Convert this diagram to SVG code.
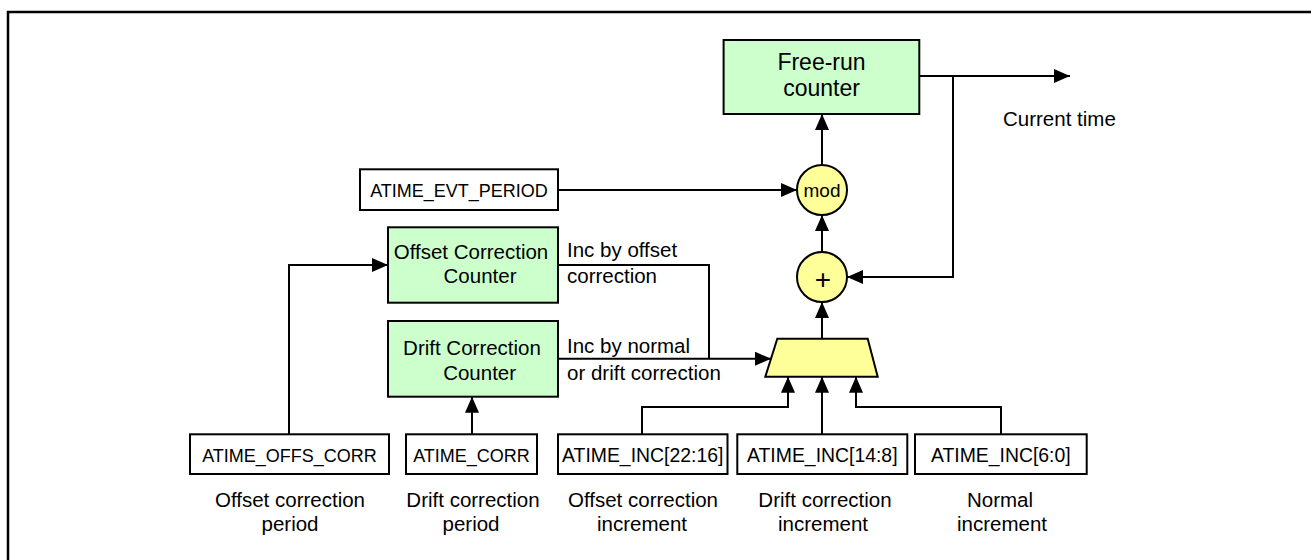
<svg xmlns="http://www.w3.org/2000/svg" width="1311" height="560" viewBox="0 0 1311 560">
<style>
  .frame{fill:none;stroke:#000;stroke-width:2.5}
  .box{fill:#fff;stroke:#000;stroke-width:2}
  .cnt{fill:#ccffcc;stroke:#000;stroke-width:2}
  .op{fill:#ffff99;stroke:#000;stroke-width:2}
  .ln{fill:none;stroke:#000;stroke-width:2}
  .arr{marker-end:url(#ah)}
  text{font-family:"Liberation Sans",Arial,sans-serif;fill:#000}
  .lbl{font-size:20.5px}
  .reg{font-size:18px;text-anchor:middle}
  .regn{font-size:19.4px;text-anchor:middle}
  .c{text-anchor:middle}
  .big{font-size:23px;text-anchor:middle}
</style>
<defs>
  <marker id="ah" markerUnits="userSpaceOnUse" markerWidth="16" markerHeight="14" refX="16" refY="7" orient="auto">
    <path d="M0,0 L16,7 L0,14 z" fill="#000"/>
  </marker>
</defs>
<rect width="1311" height="560" fill="#fff"/>
<polyline class="frame" points="8,562 8,12 1313,12"/>

<g id="connectors">
  <polyline class="ln arr" points="919,76 1070,76"/>
  <polyline class="ln arr" points="953,76 953,277 847,277"/>
  <polyline class="ln arr" points="822,165 822,114"/>
  <polyline class="ln arr" points="558,190 797,190"/>
  <polyline class="ln arr" points="822,252 822,215"/>
  <polyline class="ln arr" points="822,339 822,302"/>
  <polyline class="ln arr" points="558,358.7 771,358.7"/>
  <polyline class="ln" points="558,265 709,265 709,358.7"/>
  <polyline class="ln arr" points="289,434.3 289,265 388,265"/>
  <polyline class="ln arr" points="472,434.3 472,396.7"/>
  <polyline class="ln arr" points="642,434.3 642,407 788,407 788,376.7"/>
  <polyline class="ln arr" points="822,434.3 822,376.7"/>
  <polyline class="ln arr" points="1001,434.3 1001,407 856,407 856,376.7"/>
</g>

<g id="free-run-counter">
  <rect class="cnt" x="723.6" y="40" width="195.7" height="74"/>
  <text class="big" x="821.5" y="70">Free-run</text>
  <text class="big" x="821.5" y="96">counter</text>
</g>
<g id="current-time">
  <text class="lbl" x="1003" y="126">Current time</text>
</g>
<g id="mod">
  <circle class="op" cx="822" cy="190" r="25"/>
  <text class="c" x="822" y="196.5" style="font-size:19px">mod</text>
</g>
<g id="adder">
  <circle class="op" cx="822" cy="277" r="25"/>
  <text class="c" x="823" y="288.5" style="font-size:28px">+</text>
</g>
<g id="mux">
  <polygon class="op" points="777.3,338.7 867.7,338.7 877.7,376.7 765.3,376.7"/>
</g>
<g id="atime-evt-period">
  <rect class="box" x="360" y="169.3" width="198" height="40.7"/>
  <text class="reg" x="459" y="197.3">ATIME_EVT_PERIOD</text>
</g>
<g id="offset-correction-counter">
  <rect class="cnt" x="388" y="227.3" width="170" height="75.4"/>
  <text class="lbl c" x="471" y="259.3">Offset Correction</text>
  <text class="lbl c" x="480" y="283.3">Counter</text>
</g>
<g id="drift-correction-counter">
  <rect class="cnt" x="388" y="321" width="170" height="75.7"/>
  <text class="lbl c" x="472" y="355.3">Drift Correction</text>
  <text class="lbl c" x="479.6" y="380">Counter</text>
</g>
<g id="inc-labels">
  <text class="lbl" x="567" y="257.3">Inc by offset</text>
  <text class="lbl" x="567" y="282.7">correction</text>
  <text class="lbl" x="567" y="352.7">Inc by normal</text>
  <text class="lbl" x="567" y="380">or drift correction</text>
</g>
<g id="atime-offs-corr">
  <rect class="box" x="190" y="434.3" width="199" height="39.7"/>
  <text class="reg" x="289.5" y="462.3">ATIME_OFFS_CORR</text>
  <text class="lbl c" x="290" y="507.3">Offset correction</text>
  <text class="lbl c" x="290" y="530.7">period</text>
</g>
<g id="atime-corr">
  <rect class="box" x="406" y="434.3" width="131" height="39.7"/>
  <text class="reg" x="471.5" y="462.3">ATIME_CORR</text>
  <text class="lbl c" x="473" y="507.3">Drift correction</text>
  <text class="lbl c" x="471" y="530.7">period</text>
</g>
<g id="atime-inc-22-16">
  <rect class="box" x="558" y="434.3" width="169.5" height="39.7"/>
  <text class="regn" x="642.7" y="462.3">ATIME_INC[22:16]</text>
  <text class="lbl c" x="643" y="507.3">Offset correction</text>
  <text class="lbl c" x="642" y="530.7">increment</text>
</g>
<g id="atime-inc-14-8">
  <rect class="box" x="737.3" y="434.3" width="170" height="39.7"/>
  <text class="regn" x="822.3" y="462.3">ATIME_INC[14:8]</text>
  <text class="lbl c" x="825" y="507.3">Drift correction</text>
  <text class="lbl c" x="823" y="530.7">increment</text>
</g>
<g id="atime-inc-6-0">
  <rect class="box" x="915" y="434.3" width="171.7" height="39.7"/>
  <text class="regn" x="1000.8" y="462.3">ATIME_INC[6:0]</text>
  <text class="lbl c" x="1000" y="507.3">Normal</text>
  <text class="lbl c" x="1002" y="530.7">increment</text>
</g>
</svg>
